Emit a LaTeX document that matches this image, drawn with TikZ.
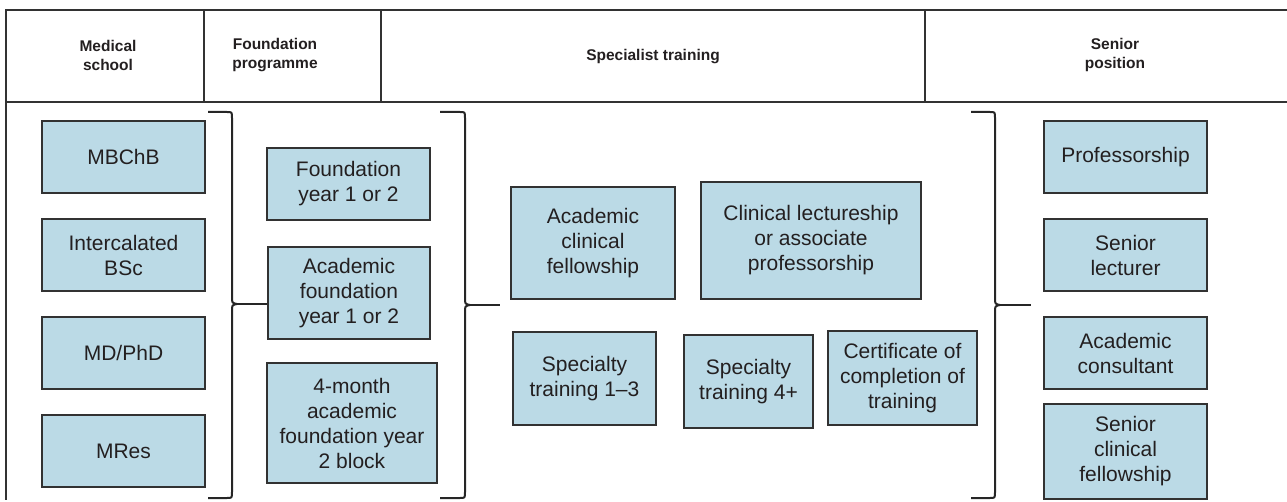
\documentclass[tikz,border=0pt]{standalone}
\usepackage{fontspec}
\setmainfont{Liberation Sans}
\usetikzlibrary{calc}
\definecolor{boxfill}{RGB}{187,218,230}
\definecolor{inkline}{RGB}{50,50,50}
\definecolor{inktext}{RGB}{35,31,32}

\begin{document}
\begin{tikzpicture}[x=1pt,y=-1pt,
  every node/.style={text=inktext},
  stagebox/.style={draw=inkline, fill=boxfill, line width=1.3pt, align=center,
    inner sep=0pt, font=\fontsize{21}{25}\selectfont},
  headtext/.style={align=center, font=\fontsize{15.5}{19}\selectfont\bfseries},
  frameline/.style={draw=inkline, line width=1.3pt},
  bracepath/.style={draw=black!85, line width=2pt, line join=round, line cap=butt},
]
\useasboundingbox (0,0) rectangle (1287,502);

% table frame: open on the right and at the bottom
\draw[frameline] (1287,10) -- (6,10) -- (6,500);
\draw[frameline] (6,102) -- (1287,102);
\foreach \xs in {204,381,925} \draw[frameline] (\xs,10) -- (\xs,102);

% column headings
\node[headtext] (hmed)  at (108,55)  {Medical\\school};
\node[headtext] (hfnd)  at (275,55)  {Foundation\\programme};
\node[headtext] (hspec) at (653,57)  {Specialist training};
\node[headtext] (hsen)  at (1115,55) {Senior\\position};

% medical school
\node[stagebox, minimum width=163pt, minimum height=72pt] (mbchb) at (123.5,157) {MBChB};
\node[stagebox, minimum width=163pt, minimum height=72pt] (ibsc)  at (123.5,255) {Intercalated\\BSc};
\node[stagebox, minimum width=163pt, minimum height=72pt] (mdphd) at (123.5,353) {MD/PhD};
\node[stagebox, minimum width=163pt, minimum height=72pt] (mres)  at (123.5,451) {MRes};

% foundation programme
\node[stagebox, minimum width=163pt, minimum height=72pt]  (fy)   at (348.5,184) {Foundation\\year 1 or 2};
\node[stagebox, minimum width=162pt, minimum height=92pt]  (afy)  at (349,293)   {Academic\\foundation\\year 1 or 2};
\node[stagebox, minimum width=170pt, minimum height=120pt] (afyb) at (352,423)   {4-month\\academic\\foundation year\\2 block};

% specialist training
\node[stagebox, minimum width=164pt, minimum height=112pt] (acf)  at (593,243)   {Academic\\clinical\\fellowship};
\node[stagebox, minimum width=220pt, minimum height=117pt] (clect) at (811,240.5) {Clinical lectureship\\or associate\\professorship};
\node[stagebox, minimum width=143pt, minimum height=93pt]  (st13) at (584.5,378.5) {Specialty\\training 1--3};
\node[stagebox, minimum width=129pt, minimum height=93pt]  (st4)  at (748.5,381.5) {Specialty\\training 4+};
\node[stagebox, minimum width=149pt, minimum height=94pt]  (cct)  at (902.5,378)   {Certificate of\\completion of\\training};

% senior position
\node[stagebox, minimum width=163pt, minimum height=72pt] (prof) at (1125.5,157) {Professorship};
\node[stagebox, minimum width=163pt, minimum height=72pt] (slec) at (1125.5,255) {Senior\\lecturer};
\node[stagebox, minimum width=163pt, minimum height=72pt] (acon) at (1125.5,353) {Academic\\consultant};
\node[stagebox, minimum width=163pt, minimum height=95pt] (scf)  at (1125.5,451.5) {Senior\\clinical\\fellowship};

% curly braces closing each stage
\foreach \xl/\xv/\ym in {208/232/304, 440/465/305, 971/995/305} {
  \draw[bracepath] (\xl,112) -- ({\xv-5},112) .. controls (\xv,112) .. (\xv,118)
    -- (\xv,{\ym-7}) .. controls (\xv,{\ym-1}) .. ({\xv+5},\ym)
    .. controls (\xv,{\ym+1}) .. (\xv,{\ym+7})
    -- (\xv,492) .. controls (\xv,498) .. ({\xv-5},498) -- (\xl,498);
}

% brace tips leading on to the next stage
\coordinate (tipA) at (237,304);
\coordinate (tipB) at (470,305);
\coordinate (tipBend) at (500,305);
\coordinate (tipC) at (1000,305);
\coordinate (tipCend) at (1031,305);
\draw[bracepath] (tipA) -- (tipA -| afy.west);
\draw[bracepath] (tipB) -- (tipBend);
\draw[bracepath] (tipC) -- (tipCend);
\end{tikzpicture}
\end{document}
